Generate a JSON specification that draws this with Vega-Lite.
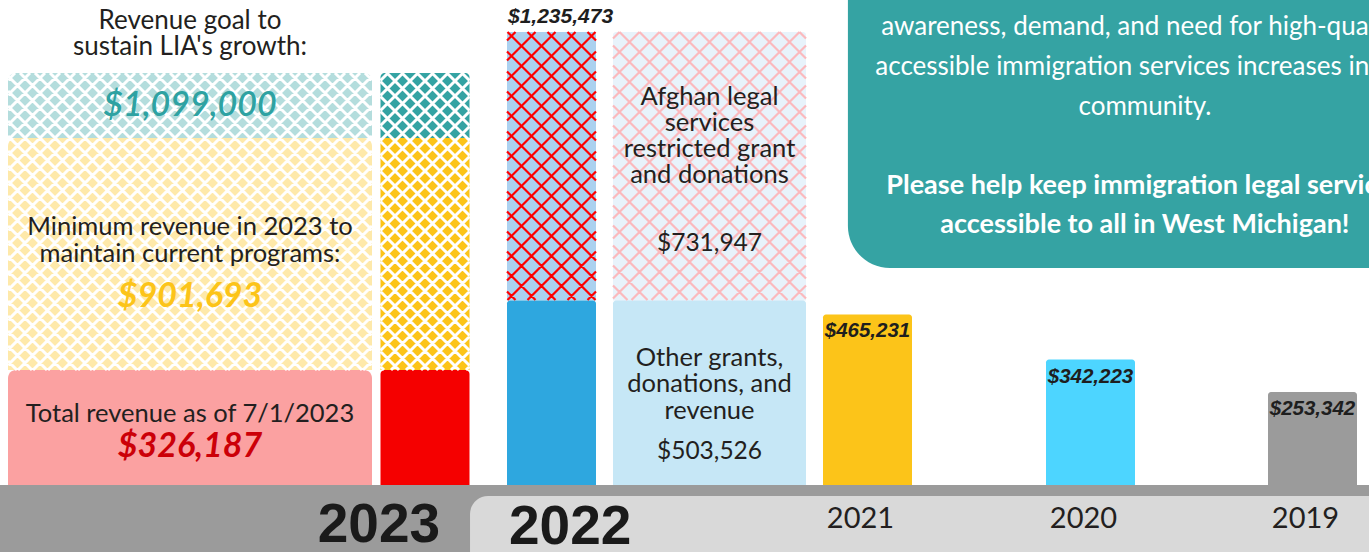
{
  "$schema": "https://vega.github.io/schema/vega-lite/v6.json",
  "width": 1369,
  "height": 552,
  "padding": 0,
  "autosize": "none",
  "background": "white",
  "config": {"view": {"stroke": null}, "axis": {"disable": true}, "legend": {"disable": true}},
  "datasets": {
    "revenue": [
      {"year": 2023, "series": "2023 goal", "low": 901693, "high": 1099000},
      {"year": 2023, "series": "2023 minimum", "low": 326187, "high": 901693},
      {"year": 2023, "series": "2023 revenue to date", "low": 0, "high": 326187},
      {"year": 2022, "series": "2022 Afghan legal services", "low": 503526, "high": 1235473},
      {"year": 2022, "series": "2022 other", "low": 0, "high": 503526},
      {"year": 2021, "series": "2021", "low": 0, "high": 465231},
      {"year": 2020, "series": "2020", "low": 0, "high": 342223},
      {"year": 2019, "series": "2019", "low": 0, "high": 253342}
    ]
  },
  "data": {"name": "revenue"},
  "resolve": {"scale": {"y": "independent"}},
  "layer": [
    {
      "layer": [
        {
          "data": {"values": [{}]},
          "mark": {"type": "rect", "fill": "#35a3a3", "cornerRadiusBottomLeft": 42},
          "encoding": {
            "x": {"datum": 2021.062, "type": "quantitative", "scale": {"type": "linear", "domain": [2024, 2023.5, 2023, 2022, 2021.5, 2021, 2020, 2019, 2018.5], "range": [0, 190, 425, 551.5, 709.5, 867.5, 1090.5, 1312.5, 1369], "zero": false, "nice": false, "padding": 0}},
            "x2": {"datum": 2018.3},
            "y": {"datum": 1400000, "type": "quantitative", "scale": {"type": "linear", "domain": [-182729, 1322740], "range": [552, 0], "zero": false, "nice": false, "padding": 0}},
            "y2": {"datum": 591826}
          }
        },
        {
          "data": {"values": [{}]},
          "mark": {"type": "rect", "fill": "#9b9b9b"},
          "encoding": {
            "x": {"datum": 2024.2, "type": "quantitative"},
            "x2": {"datum": 2018.3},
            "y": {"datum": 0, "type": "quantitative"},
            "y2": {"datum": -200000}
          }
        },
        {
          "data": {"values": [{}]},
          "mark": {"type": "rect", "fill": "#d9d9d9", "cornerRadiusTopLeft": 18},
          "encoding": {
            "x": {"datum": 2022.644, "type": "quantitative"},
            "x2": {"datum": 2018.3},
            "y": {"datum": -30000, "type": "quantitative"},
            "y2": {"datum": -200000}
          }
        },
        {
          "transform": [{"filter": "datum.year == 2022"}],
          "mark": {"type": "bar", "width": 193, "cornerRadiusTopLeft": 3, "cornerRadiusTopRight": 3, "fillOpacity": 0.27},
          "encoding": {
            "x": {"datum": 2021.5, "type": "quantitative"},
            "y": {"field": "high", "type": "quantitative"},
            "y2": {"field": "low"},
            "color": {"field": "series", "type": "nominal", "scale": {"domain": ["2023 goal", "2023 minimum", "2023 revenue to date", "2022 Afghan legal services", "2022 other", "2021", "2020", "2019"], "range": ["#34a3a3", "#fcc419", "#f50000", "#abd1ef", "#2ea7df", "#fcc419", "#4dd5ff", "#9b9b9b"]}}
          }
        },
        {
          "transform": [{"filter": "datum.year <= 2022"}],
          "mark": {"type": "bar", "width": 89, "cornerRadiusTopLeft": 3, "cornerRadiusTopRight": 3},
          "encoding": {
            "x": {"field": "year", "type": "quantitative"},
            "y": {"field": "high", "type": "quantitative"},
            "y2": {"field": "low"},
            "color": {"field": "series", "type": "nominal"}
          }
        },
        {
          "transform": [{"filter": "datum.series == '2022 Afghan legal services'"}],
          "mark": {"type": "point", "filled": false, "size": 4, "opacity": 1, "stroke": "#fbb9bd", "strokeWidth": 2.2, "shape": "M-90 0L-96.5 6.5M-70 0L-96.5 26.5M-50 0L-96.5 46.5M-30 0L-96.5 66.5M-10 0L-96.5 86.5M10 0L-96.5 106.5M30 0L-96.5 126.5M50 0L-96.5 146.5M70 0L-96.5 166.5M90 0L-96.5 186.5M96.5 13.5L-96.5 206.5M96.5 33.5L-96.5 226.5M96.5 53.5L-96.5 246.5M96.5 73.5L-96.5 266.5M96.5 93.5L-78 268M96.5 113.5L-58 268M96.5 133.5L-38 268M96.5 153.5L-18 268M96.5 173.5L2 268M96.5 193.5L22 268M96.5 213.5L42 268M96.5 233.5L62 268M96.5 253.5L82 268M90 0L96.5 6.5M70 0L96.5 26.5M50 0L96.5 46.5M30 0L96.5 66.5M10 0L96.5 86.5M-10 0L96.5 106.5M-30 0L96.5 126.5M-50 0L96.5 146.5M-70 0L96.5 166.5M-90 0L96.5 186.5M-96.5 13.5L96.5 206.5M-96.5 33.5L96.5 226.5M-96.5 53.5L96.5 246.5M-96.5 73.5L96.5 266.5M-96.5 93.5L78 268M-96.5 113.5L58 268M-96.5 133.5L38 268M-96.5 153.5L18 268M-96.5 173.5L-2 268M-96.5 193.5L-22 268M-96.5 213.5L-42 268M-96.5 233.5L-62 268M-96.5 253.5L-82 268"},
          "encoding": {
            "x": {"datum": 2021.5, "type": "quantitative"},
            "y": {"field": "high", "type": "quantitative"}
          }
        },
        {
          "transform": [{"filter": "datum.series == '2022 Afghan legal services'"}],
          "mark": {"type": "point", "filled": false, "size": 4, "opacity": 1, "stroke": "#ff0000", "strokeWidth": 2.2, "shape": "M-36 0L-44.5 8.5M-16 0L-44.5 28.5M4 0L-44.5 48.5M24 0L-44.5 68.5M44 0L-44.5 88.5M44.5 19.5L-44.5 108.5M44.5 39.5L-44.5 128.5M44.5 59.5L-44.5 148.5M44.5 79.5L-44.5 168.5M44.5 99.5L-44.5 188.5M44.5 119.5L-44.5 208.5M44.5 139.5L-44.5 228.5M44.5 159.5L-44.5 248.5M44.5 179.5L-44 268M44.5 199.5L-24 268M44.5 219.5L-4 268M44.5 239.5L16 268M44.5 259.5L36 268M36 0L44.5 8.5M16 0L44.5 28.5M-4 0L44.5 48.5M-24 0L44.5 68.5M-44 0L44.5 88.5M-44.5 19.5L44.5 108.5M-44.5 39.5L44.5 128.5M-44.5 59.5L44.5 148.5M-44.5 79.5L44.5 168.5M-44.5 99.5L44.5 188.5M-44.5 119.5L44.5 208.5M-44.5 139.5L44.5 228.5M-44.5 159.5L44.5 248.5M-44.5 179.5L44 268M-44.5 199.5L24 268M-44.5 219.5L4 268M-44.5 239.5L-16 268M-44.5 259.5L-36 268"},
          "encoding": {
            "x": {"field": "year", "type": "quantitative"},
            "y": {"field": "high", "type": "quantitative"}
          }
        }
      ]
    },
    {
      "transform": [{"filter": "datum.year == 2023"}],
      "layer": [
        {
          "mark": {"type": "bar", "width": 364, "cornerRadiusTopLeft": 8, "cornerRadiusTopRight": 8, "fillOpacity": 0.37},
          "encoding": {
            "x": {"datum": 2023.5, "type": "quantitative"},
            "y": {"field": "high", "type": "quantitative", "scale": {"type": "linear", "domain": [-182729, 0, 326187, 901693, 1099000, 1322740], "range": [552, 485, 370, 138, 73, 0], "zero": false, "nice": false, "padding": 0}},
            "y2": {"field": "low"},
            "color": {"field": "series", "type": "nominal"}
          }
        },
        {
          "mark": {"type": "bar", "width": 89, "cornerRadiusTopLeft": 4, "cornerRadiusTopRight": 4},
          "encoding": {
            "x": {"field": "year", "type": "quantitative"},
            "y": {"field": "high", "type": "quantitative"},
            "y2": {"field": "low"},
            "color": {"field": "series", "type": "nominal"}
          }
        },
        {
          "transform": [{"filter": "datum.series == '2023 goal'"}],
          "mark": {"type": "point", "filled": false, "size": 4, "opacity": 1, "stroke": "#ffffff", "strokeWidth": 3, "shape": "M-175 0L-182 7M-160 0L-182 22M-145 0L-182 37M-130 0L-182 52M-115 0L-182 67M-100 0L-182 82M-85 0L-182 97M-70 0L-182 112M-55 0L-182 127M-40 0L-182 142M-25 0L-182 157M-10 0L-182 172M5 0L-182 187M20 0L-182 202M35 0L-182 217M50 0L-182 232M65 0L-182 247M80 0L-182 262M95 0L-182 277M110 0L-182 292M125 0L-172 297M140 0L-157 297M155 0L-142 297M170 0L-127 297M182 3L-112 297M182 18L-97 297M182 33L-82 297M182 48L-67 297M182 63L-52 297M182 78L-37 297M182 93L-22 297M182 108L-7 297M182 123L8 297M182 138L23 297M182 153L38 297M182 168L53 297M182 183L68 297M182 198L83 297M182 213L98 297M182 228L113 297M182 243L128 297M182 258L143 297M182 273L158 297M182 288L173 297M175 0L182 7M160 0L182 22M145 0L182 37M130 0L182 52M115 0L182 67M100 0L182 82M85 0L182 97M70 0L182 112M55 0L182 127M40 0L182 142M25 0L182 157M10 0L182 172M-5 0L182 187M-20 0L182 202M-35 0L182 217M-50 0L182 232M-65 0L182 247M-80 0L182 262M-95 0L182 277M-110 0L182 292M-125 0L172 297M-140 0L157 297M-155 0L142 297M-170 0L127 297M-182 3L112 297M-182 18L97 297M-182 33L82 297M-182 48L67 297M-182 63L52 297M-182 78L37 297M-182 93L22 297M-182 108L7 297M-182 123L-8 297M-182 138L-23 297M-182 153L-38 297M-182 168L-53 297M-182 183L-68 297M-182 198L-83 297M-182 213L-98 297M-182 228L-113 297M-182 243L-128 297M-182 258L-143 297M-182 273L-158 297M-182 288L-173 297"},
          "encoding": {
            "x": {"datum": 2023.5, "type": "quantitative"},
            "y": {"field": "high", "type": "quantitative"}
          }
        },
        {
          "transform": [{"filter": "datum.series == '2023 goal'"}],
          "mark": {"type": "point", "filled": false, "size": 4, "opacity": 1, "stroke": "#ffffff", "strokeWidth": 3, "shape": "M-37 0L-44.5 7.5M-22 0L-44.5 22.5M-7 0L-44.5 37.5M8 0L-44.5 52.5M23 0L-44.5 67.5M38 0L-44.5 82.5M44.5 8.5L-44.5 97.5M44.5 23.5L-44.5 112.5M44.5 38.5L-44.5 127.5M44.5 53.5L-44.5 142.5M44.5 68.5L-44.5 157.5M44.5 83.5L-44.5 172.5M44.5 98.5L-44.5 187.5M44.5 113.5L-44.5 202.5M44.5 128.5L-44.5 217.5M44.5 143.5L-44.5 232.5M44.5 158.5L-44.5 247.5M44.5 173.5L-44.5 262.5M44.5 188.5L-44.5 277.5M44.5 203.5L-44.5 292.5M44.5 218.5L-34 297M44.5 233.5L-19 297M44.5 248.5L-4 297M44.5 263.5L11 297M44.5 278.5L26 297M44.5 293.5L41 297M37 0L44.5 7.5M22 0L44.5 22.5M7 0L44.5 37.5M-8 0L44.5 52.5M-23 0L44.5 67.5M-38 0L44.5 82.5M-44.5 8.5L44.5 97.5M-44.5 23.5L44.5 112.5M-44.5 38.5L44.5 127.5M-44.5 53.5L44.5 142.5M-44.5 68.5L44.5 157.5M-44.5 83.5L44.5 172.5M-44.5 98.5L44.5 187.5M-44.5 113.5L44.5 202.5M-44.5 128.5L44.5 217.5M-44.5 143.5L44.5 232.5M-44.5 158.5L44.5 247.5M-44.5 173.5L44.5 262.5M-44.5 188.5L44.5 277.5M-44.5 203.5L44.5 292.5M-44.5 218.5L34 297M-44.5 233.5L19 297M-44.5 248.5L4 297M-44.5 263.5L-11 297M-44.5 278.5L-26 297M-44.5 293.5L-41 297"},
          "encoding": {
            "x": {"field": "year", "type": "quantitative"},
            "y": {"field": "high", "type": "quantitative"}
          }
        }
      ]
    },
    {
      "layer": [
        {
          "data": {"values": [{}]},
          "mark": {"type": "text", "font": "Lato", "fontSize": 26, "color": "#231f20", "align": "center", "baseline": "middle", "lineHeight": 26},
          "encoding": {
            "x": {"datum": 2023.5, "type": "quantitative"},
            "y": {"datum": 1264108, "type": "quantitative", "scale": {"type": "linear", "domain": [-182729, 1322740], "range": [552, 0], "zero": false, "nice": false, "padding": 0}},
            "text": {"value": ["Revenue goal to", "sustain LIA's growth:"]}
          }
        },
        {
          "data": {"values": [{}]},
          "mark": {"type": "text", "font": "Lato", "fontSize": 34, "fontStyle": "italic", "fontWeight": 600, "color": "#2ea2a2", "align": "center", "baseline": "middle"},
          "encoding": {
            "x": {"datum": 2023.5, "type": "quantitative"},
            "y": {"datum": 1033651, "type": "quantitative"},
            "text": {"value": "$1,099,000"}
          }
        },
        {
          "data": {"values": [{}]},
          "mark": {"type": "text", "font": "Lato", "fontSize": 25.5, "color": "#231f20", "align": "center", "baseline": "middle", "lineHeight": 27},
          "encoding": {
            "x": {"datum": 2023.5, "type": "quantitative"},
            "y": {"datum": 703646, "type": "quantitative"},
            "text": {"value": ["Minimum revenue in 2023 to", "maintain current  programs:"]}
          }
        },
        {
          "data": {"values": [{}]},
          "mark": {"type": "text", "font": "Lato", "fontSize": 34, "fontStyle": "italic", "fontWeight": "bold", "color": "#fcc419", "align": "center", "baseline": "middle"},
          "encoding": {
            "x": {"datum": 2023.5, "type": "quantitative"},
            "y": {"datum": 512734, "type": "quantitative"},
            "text": {"value": "$901,693"}
          }
        },
        {
          "data": {"values": [{}]},
          "mark": {"type": "text", "font": "Lato", "fontSize": 25.5, "color": "#231f20", "align": "center", "baseline": "middle"},
          "encoding": {
            "x": {"datum": 2023.5, "type": "quantitative"},
            "y": {"datum": 193639, "type": "quantitative"},
            "text": {"value": "Total revenue as of 7/1/2023"}
          }
        },
        {
          "data": {"values": [{}]},
          "mark": {"type": "text", "font": "Lato", "fontSize": 34, "fontStyle": "italic", "fontWeight": "bold", "color": "#cc0008", "align": "center", "baseline": "middle"},
          "encoding": {
            "x": {"datum": 2023.5, "type": "quantitative"},
            "y": {"datum": 103638, "type": "quantitative"},
            "text": {"value": "$326,187"}
          }
        },
        {
          "transform": [{"filter": "datum.series == '2022 Afghan legal services'"}],
          "mark": {"type": "text", "font": "Liberation Sans", "fontSize": 21, "fontStyle": "italic", "fontWeight": "bold", "color": "#1e1e1e", "align": "center", "baseline": "middle", "dy": -15, "dx": 9},
          "encoding": {
            "x": {"field": "year", "type": "quantitative"},
            "y": {"field": "high", "type": "quantitative"},
            "text": {"field": "high", "type": "quantitative", "format": "$,.0f"}
          }
        },
        {
          "data": {"values": [{}]},
          "mark": {"type": "text", "font": "Lato", "fontSize": 25.5, "color": "#231f20", "align": "center", "baseline": "middle", "lineHeight": 26},
          "encoding": {
            "x": {"datum": 2021.5, "type": "quantitative"},
            "y": {"datum": 1058196, "type": "quantitative"},
            "text": {"value": ["Afghan legal", "services", "restricted grant", "and donations"]}
          }
        },
        {
          "data": {"values": [{}]},
          "mark": {"type": "text", "font": "Lato", "fontSize": 24.5, "color": "#231f20", "align": "center", "baseline": "middle"},
          "encoding": {
            "x": {"datum": 2021.5, "type": "quantitative"},
            "y": {"datum": 657282, "type": "quantitative"},
            "text": {"value": "$731,947"}
          }
        },
        {
          "data": {"values": [{}]},
          "mark": {"type": "text", "font": "Lato", "fontSize": 25.5, "color": "#231f20", "align": "center", "baseline": "middle", "lineHeight": 26.5},
          "encoding": {
            "x": {"datum": 2021.5, "type": "quantitative"},
            "y": {"datum": 346368, "type": "quantitative"},
            "text": {"value": ["Other grants,", "donations, and", "revenue"]}
          }
        },
        {
          "data": {"values": [{}]},
          "mark": {"type": "text", "font": "Lato", "fontSize": 24.5, "color": "#231f20", "align": "center", "baseline": "middle"},
          "encoding": {
            "x": {"datum": 2021.5, "type": "quantitative"},
            "y": {"datum": 90001, "type": "quantitative"},
            "text": {"value": "$503,526"}
          }
        },
        {
          "transform": [{"filter": "datum.year <= 2021"}],
          "mark": {"type": "text", "font": "Liberation Sans", "fontSize": 20.5, "fontStyle": "italic", "fontWeight": "bold", "color": "#1e1e1e", "align": "center", "baseline": "middle", "dy": 17},
          "encoding": {
            "x": {"field": "year", "type": "quantitative"},
            "y": {"field": "high", "type": "quantitative"},
            "text": {"field": "high", "type": "quantitative", "format": "$,.0f"}
          }
        },
        {
          "transform": [{"filter": "datum.year <= 2021"}],
          "mark": {"type": "text", "font": "Lato", "fontSize": 29, "color": "#231f20", "align": "center", "baseline": "middle", "dx": -7},
          "encoding": {
            "x": {"field": "year", "type": "quantitative"},
            "y": {"datum": -92729, "type": "quantitative"},
            "text": {"field": "year", "type": "quantitative", "format": "d"}
          }
        },
        {
          "data": {"values": [{}]},
          "mark": {"type": "text", "font": "Liberation Sans", "fontSize": 55, "fontWeight": "bold", "color": "#1a1a1a", "align": "center", "baseline": "middle"},
          "encoding": {
            "x": {"datum": 2023.098, "type": "quantitative"},
            "y": {"datum": -109092, "type": "quantitative"},
            "text": {"value": "2023"}
          }
        },
        {
          "data": {"values": [{}]},
          "mark": {"type": "text", "font": "Liberation Sans", "fontSize": 55, "fontWeight": "bold", "color": "#1a1a1a", "align": "center", "baseline": "middle"},
          "encoding": {
            "x": {"datum": 2021.941, "type": "quantitative"},
            "y": {"datum": -114547, "type": "quantitative"},
            "text": {"value": "2022"}
          }
        },
        {
          "data": {"values": [{}]},
          "mark": {"type": "text", "font": "Lato", "fontSize": 26, "color": "#ffffff", "align": "center", "baseline": "middle", "lineHeight": 40},
          "encoding": {
            "x": {"datum": 2019.755, "type": "quantitative"},
            "y": {"datum": 1249108, "type": "quantitative"},
            "text": {"value": ["awareness, demand, and need for high-quality,", "accessible immigration services increases in our", "community."]}
          }
        },
        {
          "data": {"values": [{}]},
          "mark": {"type": "text", "font": "Lato", "fontSize": 27, "fontWeight": "bold", "color": "#ffffff", "align": "center", "baseline": "middle", "lineHeight": 39},
          "encoding": {
            "x": {"datum": 2019.755, "type": "quantitative"},
            "y": {"datum": 814102, "type": "quantitative"},
            "text": {"value": ["Please help keep immigration legal services", "accessible to all in West Michigan!"]}
          }
        }
      ]
    }
  ]
}
